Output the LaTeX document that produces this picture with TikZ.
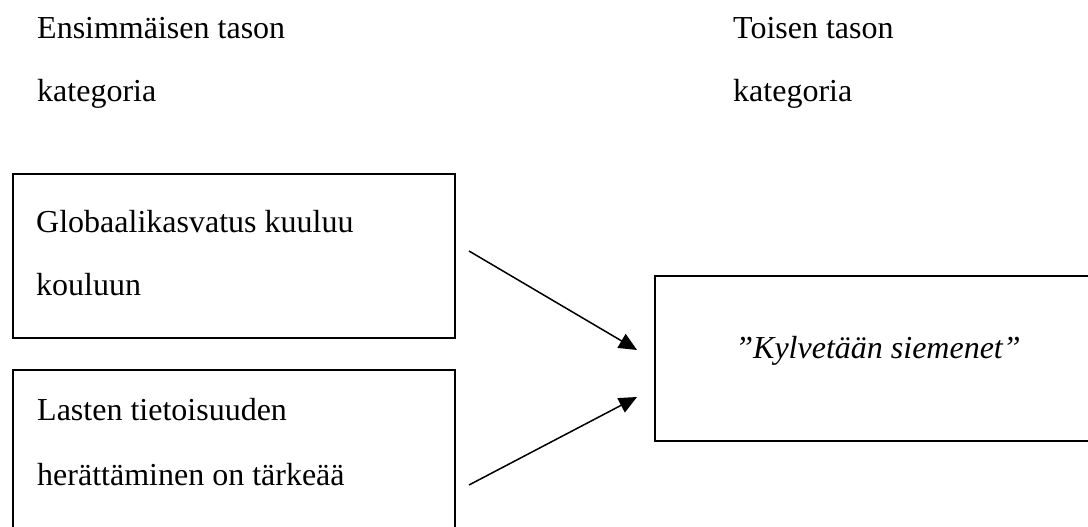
\documentclass[tikz,border=0pt]{standalone}
\usepackage{fontspec}
\setmainfont{Liberation Serif}
\usetikzlibrary{arrows.meta}
\tikzset{
  boxnode/.style={draw=black, line width=1.8pt, inner sep=0pt, anchor=north west},
  txt/.style={anchor=base west, inner sep=0pt, font=\fontsize{32}{40}\selectfont},
  conn/.style={line width=1.5pt, -{Triangle[length=18pt,width=16pt]}}
}
\begin{document}
\begin{tikzpicture}[x=1pt,y=-1pt]
\useasboundingbox (0,0) rectangle (1088,527);
\clip (0,0) rectangle (1088,527);
% headers
\node[txt] (h1a) at (37,39) {Ensimmäisen tason};
\node[txt] (h1b) at (37,102) {kategoria};
\node[txt] (h2a) at (733,39) {Toisen tason};
\node[txt] (h2b) at (733,102) {kategoria};
% boxes
\node[boxnode, minimum width=442pt, minimum height=164pt] (b1) at (12,173) {};
\node[boxnode, minimum width=442pt, minimum height=200pt] (b2) at (12,369) {};
\node[boxnode, minimum width=460pt, minimum height=165pt] (b3) at (654,275) {};
% box texts
\node[txt] (t1a) at (36,232) {Globaalikasvatus kuuluu};
\node[txt] (t1b) at (36,295) {kouluun};
\node[txt] (t2a) at (37,420) {Lasten tietoisuuden};
\node[txt] (t2b) at (37,485) {herättäminen on tärkeää};
\node[txt, anchor=base] (t3) at (878,358) {\itshape ”Kylvetään siemenet”};
% connectors
\coordinate (s1) at (469,251);
\coordinate (e1) at (637,350);
\coordinate (s2) at (469,485);
\coordinate (e2) at (637,397);
\draw[conn] (s1) -- (e1);
\draw[conn] (s2) -- (e2);
\end{tikzpicture}
\end{document}
